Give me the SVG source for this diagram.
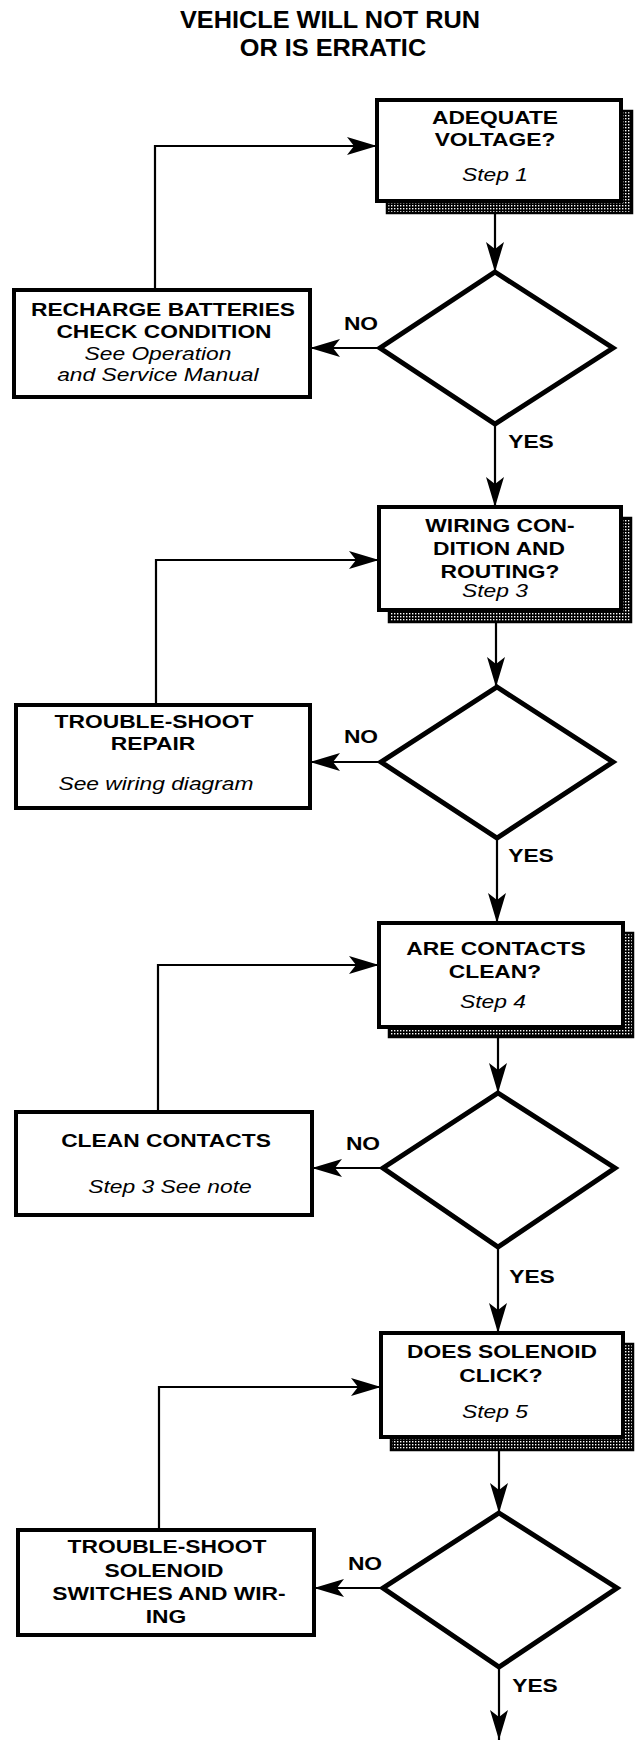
<svg xmlns="http://www.w3.org/2000/svg" width="636" height="1740" viewBox="0 0 636 1740">
<style>
.bx { fill: #fff; stroke: #000; stroke-width: 4; }
.sh { fill: url(#dots); stroke: #000; stroke-width: 2.5; }
.dm { fill: #fff; stroke: #000; stroke-width: 5; stroke-linejoin: miter; }
.cn { fill: none; stroke: #000; stroke-width: 2.2; marker-end: url(#arr); }
.ln { fill: none; stroke: #000; stroke-width: 2.2; }
text { font-family: "Liberation Sans", Arial, Helvetica, sans-serif; fill: #000; text-anchor: middle; transform-box: fill-box; transform-origin: center; transform: scaleX(1.2); }
.b { font-weight: bold; font-size: 19px; }
.i { font-style: italic; font-size: 19px; }
.ttl { font-weight: bold; font-size: 23px; transform: scaleX(1.1); }
</style>
<defs>
<pattern id="dots" width="3" height="3" patternUnits="userSpaceOnUse">
<rect width="3" height="3" fill="#000"/>
<rect x="1" y="1" width="1.4" height="1.4" fill="#fff"/>
</pattern>
<marker id="arr" markerUnits="userSpaceOnUse" markerWidth="30" markerHeight="18" viewBox="0 0 30 18" refX="30" refY="9" orient="auto">
<path d="M0,0 L30,9 L0,18 L7,9 Z" fill="#000"/>
</marker>
</defs>

<g id="title">
<text class="ttl" x="330" y="28">VEHICLE WILL NOT RUN</text>
<text class="ttl" x="333" y="56">OR IS ERRATIC</text>
</g>

<g id="connectors">
<line class="cn" x1="495" y1="213" x2="495" y2="272"/>
<line class="cn" x1="380" y1="348" x2="310" y2="348"/>
<polyline class="cn" points="155,290 155,146 377,146"/>
<line class="cn" x1="495" y1="425" x2="495" y2="507"/>
<line class="cn" x1="496" y1="622" x2="496" y2="687"/>
<line class="cn" x1="381" y1="762" x2="310" y2="762"/>
<polyline class="cn" points="156,705 156,560 379,560"/>
<line class="cn" x1="497" y1="838" x2="497" y2="923"/>
<line class="cn" x1="498" y1="1037" x2="498" y2="1093"/>
<line class="cn" x1="383" y1="1168" x2="312" y2="1168"/>
<polyline class="cn" points="158,1112 158,965 379,965"/>
<line class="cn" x1="498" y1="1247" x2="498" y2="1333"/>
<line class="cn" x1="499" y1="1450" x2="499" y2="1513"/>
<line class="cn" x1="383" y1="1588" x2="314" y2="1588"/>
<polyline class="cn" points="159,1530 159,1387 381,1387"/>
<line class="cn" x1="499" y1="1667" x2="499" y2="1740"/>
<text class="b" x="361" y="330">NO</text>
<text class="b" x="531" y="448">YES</text>
<text class="b" x="361" y="743">NO</text>
<text class="b" x="531" y="862">YES</text>
<text class="b" x="363" y="1150">NO</text>
<text class="b" x="532" y="1283">YES</text>
<text class="b" x="365" y="1570">NO</text>
<text class="b" x="535" y="1692">YES</text>
</g>

<g id="step1">
<rect class="sh" x="387" y="111" width="245" height="102"/>
<rect class="bx" x="377" y="100" width="244" height="101"/>
<text class="b" x="495" y="124">ADEQUATE</text>
<text class="b" x="495" y="146">VOLTAGE?</text>
<text class="i" x="495" y="181">Step 1</text>
</g>
<g id="decision1">
<polygon class="dm" points="495,272 613,348 495,424 380,348"/>
</g>
<g id="recharge">
<rect class="bx" x="14" y="290" width="296" height="107"/>
<text class="b" x="163" y="316">RECHARGE BATTERIES</text>
<text class="b" x="164" y="338">CHECK CONDITION</text>
<text class="i" x="158" y="360">See Operation</text>
<text class="i" x="158" y="381">and Service Manual</text>
</g>

<g id="step3">
<rect class="sh" x="389" y="518" width="242" height="104"/>
<rect class="bx" x="379" y="507" width="242" height="103"/>
<text class="b" x="500" y="532">WIRING CON-</text>
<text class="b" x="499" y="555">DITION AND</text>
<text class="b" x="500" y="578">ROUTING?</text>
<text class="i" x="495" y="597">Step 3</text>
</g>
<g id="decision2">
<polygon class="dm" points="497,687 613,762 497,838 381,762"/>
</g>
<g id="troubleshoot-repair">
<rect class="bx" x="16" y="705" width="294" height="103"/>
<text class="b" x="154" y="728">TROUBLE-SHOOT</text>
<text class="b" x="153" y="750">REPAIR</text>
<text class="i" x="156" y="790">See wiring diagram</text>
</g>

<g id="step4">
<rect class="sh" x="389" y="933" width="244" height="104"/>
<rect class="bx" x="379" y="923" width="244" height="104"/>
<text class="b" x="496" y="955">ARE CONTACTS</text>
<text class="b" x="495" y="978">CLEAN?</text>
<text class="i" x="493" y="1008">Step 4</text>
</g>
<g id="decision3">
<polygon class="dm" points="498,1093 615,1168 498,1247 383,1168"/>
</g>
<g id="clean-contacts">
<rect class="bx" x="16" y="1112" width="296" height="103"/>
<text class="b" x="166" y="1147">CLEAN CONTACTS</text>
<text class="i" x="170" y="1193">Step 3 See note</text>
</g>

<g id="step5">
<rect class="sh" x="391" y="1344" width="242" height="106"/>
<rect class="bx" x="381" y="1333" width="242" height="104"/>
<text class="b" x="502" y="1358">DOES SOLENOID</text>
<text class="b" x="501" y="1382">CLICK?</text>
<text class="i" x="495" y="1418">Step 5</text>
</g>
<g id="decision4">
<polygon class="dm" points="499,1513 617,1588 499,1667 383,1588"/>
</g>
<g id="troubleshoot-solenoid">
<rect class="bx" x="18" y="1530" width="296" height="105"/>
<text class="b" x="167" y="1553">TROUBLE-SHOOT</text>
<text class="b" x="164" y="1577">SOLENOID</text>
<text class="b" x="169" y="1600">SWITCHES AND WIR-</text>
<text class="b" x="166" y="1623">ING</text>
</g>
</svg>
